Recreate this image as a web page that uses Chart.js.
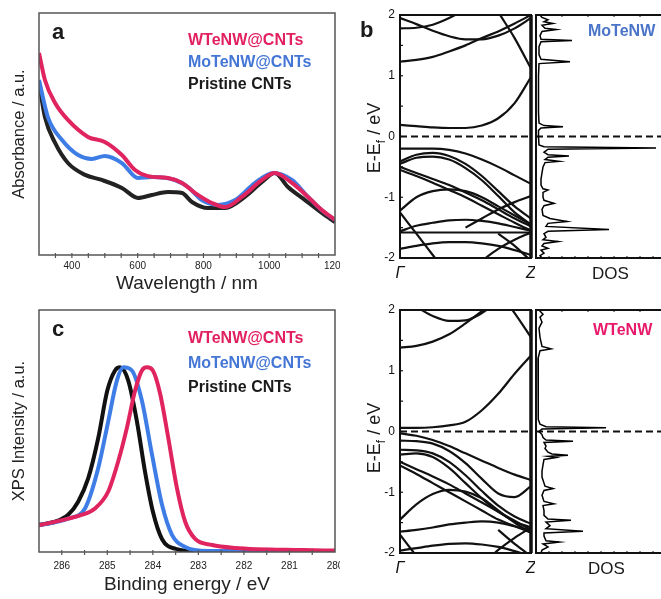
<!DOCTYPE html>
<html><head><meta charset="utf-8">
<script src="https://cdn.jsdelivr.net/npm/chart.js@4.4.1/dist/chart.umd.min.js"></script>
<style>
html,body{margin:0;padding:0;width:661px;height:599px;overflow:hidden;background:#fff;font-family:"Liberation Sans",Arial,sans-serif;}
canvas{position:absolute;display:block;}
.t{position:absolute;white-space:nowrap;line-height:1;color:#1a1a1a;}
.b{font-weight:bold;}
.rot{transform:translate(-50%,-50%) rotate(-90deg);transform-origin:center center;}
</style></head><body>
<canvas id="ca" width="340" height="300" style="left:0;top:0"></canvas>
<canvas id="cc" width="340" height="299" style="left:0;top:300px"></canvas>
<canvas id="cb1" width="195" height="300" style="left:340px;top:0"></canvas>
<canvas id="cd1" width="140" height="300" style="left:534px;top:0"></canvas>
<canvas id="cb2" width="195" height="300" style="left:340px;top:295px"></canvas>
<canvas id="cd2" width="140" height="300" style="left:534px;top:295px"></canvas>

<div class="t b" style="left:52px;top:21px;font-size:22px">a</div>
<div class="t b" style="left:188px;top:32px;font-size:16px;color:#e2205f">WTeNW@CNTs</div>
<div class="t b" style="left:188px;top:54px;font-size:16px;color:#4476d6">MoTeNW@CNTs</div>
<div class="t b" style="left:188px;top:76px;font-size:16px;color:#1a1a1a">Pristine CNTs</div>

<div class="t b" style="left:52px;top:318px;font-size:22px">c</div>
<div class="t b" style="left:188px;top:330px;font-size:16px;color:#e2205f">WTeNW@CNTs</div>
<div class="t b" style="left:188px;top:355px;font-size:16px;color:#4476d6">MoTeNW@CNTs</div>
<div class="t b" style="left:188px;top:379px;font-size:16px;color:#1a1a1a">Pristine CNTs</div>

<div class="t b" style="left:360px;top:19px;font-size:22px">b</div>
<div class="t b" style="left:588px;top:23px;font-size:16px;color:#4a74c8">MoTeNW</div>
<div class="t b" style="left:593px;top:322px;font-size:16px;color:#e8196a">WTeNW</div>
<div class="t rot" style="left:376px;top:138px;font-size:18px">E-E<sub style="font-size:12px">f</sub> / eV</div>
<div class="t rot" style="left:376px;top:438px;font-size:18px">E-E<sub style="font-size:12px">f</sub> / eV</div>
<div class="t" style="left:592px;top:265px;font-size:17px">DOS</div>
<div class="t" style="left:588px;top:560px;font-size:17px">DOS</div>

<script>
// ---------- Panel a: absorbance ----------
const absTickLabels = [400, 600, 800, 1000, 1200];
const absNmW  = [300,318,349,388,449,500,552,592,631,692,735,775,826,866,917,978,1017,1069,1118,1160,1200];
const absValW = [83.5,72.3,62.8,55.8,48.8,46.7,41.3,35.1,32.6,31.8,29.8,25.6,21.5,19.8,24.0,31.0,33.9,29.8,24.0,18.6,14.5];
const absNmMo  = [300,327,370,419,461,500,552,601,643,713,753,795,844,896,957,1012,1069,1118,1160,1200];
const absValMo = [72.3,57.0,47.5,41.3,39.7,40.9,38.0,31.8,32.2,31.0,28.1,22.7,20.7,22.7,29.8,33.9,31.0,24.0,18.5,14.5];
const absNmP  = [300,318,349,388,440,491,552,601,643,692,735,765,814,866,926,978,1017,1057,1109,1160,1200];
const absValP = [71.5,57.0,46.3,38.0,33.1,31.0,27.7,23.6,24.8,26.0,25.6,21.9,19.4,19.4,24.0,30.2,33.9,28.1,22.7,17.4,13.6];

// ---------- Panel c: XPS ----------
const xpsTickLabels = [286, 285, 284, 283, 282, 281, 280];
const xpsEvW  = [286.5,285.86,285.55,285.27,284.98,284.76,284.57,284.39,284.24,284.13,284.0,283.84,283.66,283.47,283.29,283.07,282.7,282.2,280.7,280];
const xpsValW = [11,13.8,15.4,18,25,37.5,51.3,66.7,75,76.3,75,65.4,47,26.3,12.5,5.4,2.9,1.7,0.8,0.6];
const xpsEvMo  = [286.5,285.86,285.49,285.2,284.98,284.79,284.65,284.46,284.24,284.02,283.8,283.58,283.29,282.79,281,280];
const xpsValMo = [11,13.8,18,34.6,54,70.8,76.3,75,62.5,40.4,19.6,7.1,2.1,0.4,0.3,0.3];
const xpsEvP  = [286.5,286.15,285.86,285.64,285.42,285.2,285.0,284.83,284.72,284.54,284.35,284.17,284.0,283.8,283.5,283.07,282,280];
const xpsValP = [11.3,12.5,15.4,20.8,30.4,47,66.7,75,76.3,70.8,54,33,16.7,5.4,1.3,0.4,0.3,0.3];

// ---------- Panel b: band structures (k from Γ=0 to Z=1) ----------
const kPath = [0, 0.125, 0.25, 0.375, 0.5, 0.625, 0.75, 0.875, 1];
const kLabels = ['Γ', 'Z'];
const energyTicks = [-2, -1, 0, 1, 2];
const bandsMoTe = [
  [0.19,0.17,0.15,0.14,0.14,0.18,0.3,0.55,0.98],
  [1.23,1.26,1.31,1.4,1.5,1.62,1.73,1.86,2.0],
  [null,null,null,null,null,2.5,2.05,1.62,1.12],
  [1.95,1.85,1.74,1.65,1.6,1.6,1.66,1.78,1.95],
  [1.78,1.79,1.84,1.95,2.1,2.3,null,null,null],
  [-0.2,-0.2,-0.2,-0.22,-0.28,-0.38,-0.5,-0.64,-0.78],
  [-0.41,-0.3,-0.27,-0.32,-0.45,-0.65,-0.9,-1.15,-1.35],
  [-0.45,-0.35,-0.33,-0.38,-0.52,-0.72,-0.98,-1.25,-1.45],
  [-0.5,-0.6,-0.7,-0.8,-0.92,-1.05,-1.2,-1.35,-1.48],
  [-0.55,-0.65,-0.76,-0.88,-1.0,-1.14,-1.28,-1.42,-1.55],
  [-1.22,-1.0,-0.9,-0.87,-0.9,-1.0,-1.15,-1.3,-1.45],
  [null,null,null,null,-1.5,-1.35,-1.2,-1.08,-0.98],
  [-1.56,-1.47,-1.42,-1.38,-1.37,-1.39,-1.43,-1.49,-1.55],
  [-1.58,-1.58,-1.58,-1.58,-1.58,-1.58,-1.58,-1.58,-1.58],
  [-1.85,-1.8,-1.76,-1.74,-1.74,-1.76,-1.8,-1.87,-1.95],
  [-1.25,-1.6,-1.95,-2.3,null,null,null,null,null],
  [null,null,null,null,-2.3,-2.05,-1.85,-1.7,-1.58],
  [null,null,null,null,null,null,-1.6,-1.8,-2.05]
];
const bandsWTe = [
  [0.06,0.06,0.07,0.1,0.16,0.35,0.62,0.95,1.25],
  [1.38,1.41,1.48,1.6,1.78,1.98,2.2,null,null],
  [null,2.05,1.9,1.82,1.83,1.95,2.15,null,null],
  [null,null,null,null,null,null,2.3,1.95,1.55],
  [-0.03,-0.07,-0.14,-0.24,-0.36,-0.48,-0.6,-0.71,-0.8],
  [-0.15,-0.16,-0.2,-0.32,-0.52,-0.78,-1.02,-1.08,-0.9],
  [-0.3,-0.31,-0.36,-0.5,-0.72,-0.98,-1.22,-1.4,-1.52],
  [-0.38,-0.36,-0.42,-0.6,-0.85,-1.1,-1.32,-1.48,-1.58],
  [-0.5,-0.62,-0.74,-0.87,-1.02,-1.17,-1.32,-1.47,-1.62],
  [-0.56,-0.7,-0.85,-1.0,-1.15,-1.3,-1.45,-1.56,-1.66],
  [-1.45,-1.2,-1.03,-0.96,-0.99,-1.1,-1.3,-1.5,-1.67],
  [-1.65,-1.62,-1.58,-1.53,-1.5,-1.48,-1.5,-1.56,-1.63],
  [-1.96,-1.92,-1.88,-1.85,-1.84,-1.86,-1.9,-1.97,-2.05],
  [-1.7,-2.05,null,null,null,null,null,null,null],
  [null,null,null,null,null,-2.2,-1.95,-1.75,-1.58],
  [null,null,null,null,null,null,-1.62,-1.85,-2.05]
];

// ---------- Panel b: density of states ----------
const dosMoE = [2.0,1.96,1.92,1.89,1.86,1.83,1.78,1.76,1.73,1.66,1.6,1.58,1.56,1.48,1.35,1.27,1.23,1.2,1.0,0.4,0.22,0.18,0.16,0.14,0.1,0.0,-0.14,-0.17,-0.19,-0.21,-0.26,-0.3,-0.32,-0.34,-0.38,-0.41,-0.43,-0.5,-0.6,-0.7,-0.8,-0.86,-0.88,-0.92,-1.0,-1.05,-1.1,-1.14,-1.2,-1.3,-1.35,-1.4,-1.43,-1.48,-1.53,-1.56,-1.6,-1.66,-1.7,-1.73,-1.76,-1.8,-1.84,-1.87,-1.92,-1.96,-2.0];
const dosMoV = [4,6,12,8,17,6,9,20,6,4,5,36,5,3,3,5,34,3,2.5,2.5,3,8,27,5,2.5,2.5,3,8,120,12,8,12,33,12,9,23,9,7,6,5,5,7,12,7,7,8,18,8,6,7,14,31,12,10,73,12,8,10,7,22,8,6,12,5,8,4,6];
const dosWE = [2.0,1.93,1.88,1.8,1.7,1.55,1.4,1.36,1.33,1.2,0.6,0.2,0.12,0.08,0.06,0.04,0.0,-0.05,-0.1,-0.14,-0.16,-0.18,-0.24,-0.28,-0.34,-0.37,-0.39,-0.41,-0.43,-0.46,-0.55,-0.65,-0.75,-0.85,-0.9,-0.94,-0.97,-1.05,-1.15,-1.19,-1.22,-1.3,-1.38,-1.44,-1.46,-1.49,-1.55,-1.6,-1.64,-1.67,-1.72,-1.8,-1.82,-1.85,-1.9,-1.95,-2.0];
const dosWV = [3,7,4,6,3,4,6,15,4,2,2,2.5,4,10,70,6,3,6,7,10,37,8,10,9,12,16,32,12,20,8,7,6,6,8,9,17,8,6,8,18,7,8,8,12,35,10,14,10,47,8,8,10,23,7,12,6,5];

// ---------- helpers ----------
const FONT = '"Liberation Sans", Arial, sans-serif';
Chart.defaults.font.family = FONT;
Chart.defaults.color = '#1a1a1a';
Chart.defaults.animation = false;

function steps(a, b, s) { const r = []; for (let v = a; v <= b + 1e-9; v += s) r.push(+v.toFixed(4)); return r; }

const framePlugin = {
  id: 'frame',
  afterDatasetsDraw(chart, args, o) {
    const { ctx, chartArea: a } = chart;
    ctx.save();
    (o.ticks || []).forEach(t => {
      const s = chart.scales[t.axis];
      ctx.strokeStyle = o.color; ctx.lineWidth = t.width || 1;
      const out = t.out || 0;
      t.values.forEach(v => {
        const p = s.getPixelForValue(v);
        ctx.beginPath();
        if (t.side === 'bottom') { ctx.moveTo(p, a.bottom + out); ctx.lineTo(p, a.bottom - t.len); }
        else if (t.side === 'top') { ctx.moveTo(p, a.top); ctx.lineTo(p, a.top + t.len); }
        else { ctx.moveTo(a.left, p); ctx.lineTo(a.left + t.len, p); }
        ctx.stroke();
      });
    });
    ctx.strokeStyle = o.color; ctx.lineWidth = o.width;
    ctx.strokeRect(a.left, a.top, a.right - a.left, a.bottom - a.top);
    if (o.rightWidth) {
      ctx.lineWidth = o.rightWidth;
      ctx.beginPath(); ctx.moveTo(a.right, a.top); ctx.lineTo(a.right, a.bottom); ctx.stroke();
    }
    ctx.restore();
  }
};

function series(xs, ys, color, w) {
  return { data: xs.map((x, i) => ({ x, y: ys[i] })), borderColor: color, borderWidth: w,
    pointRadius: 0, showLine: true, cubicInterpolationMode: 'monotone', fill: false };
}
const RED = '#e0245f', BLUE = '#3f7de6', BLACK = '#222';

const noPlug = { legend: { display: false }, tooltip: { enabled: false } };

function spectrumChart(id, datasets, xopt, yTitle, xTitle, h, padTop, xTitlePad, tickPad, minorTicks) {
  return new Chart(document.getElementById(id), {
    type: 'scatter',
    data: { datasets },
    options: {
      responsive: false, animation: false,
      layout: { padding: { top: padTop, right: 5, left: 0, bottom: 0 } },
      plugins: Object.assign({}, noPlug, { frame: { color: '#555', width: 1.5,
        ticks: [{ axis: 'x', side: 'bottom', len: 2, out: 3, width: 1.2, values: minorTicks }] } }),
      scales: {
        x: Object.assign({
          type: 'linear',
          afterBuildTicks: s => { s.ticks = xopt.labels.map(v => ({ value: v })); },
          afterFit: s => { s.height = h; s.paddingLeft = 0; s.paddingRight = 0; },
          grid: { display: false, drawTicks: false }, border: { display: false },
          ticks: { font: { size: 10 }, color: '#222', padding: tickPad, maxRotation: 0, autoSkip: false,
            callback: v => String(v) },
          title: { display: true, text: xTitle, font: { size: 19 }, color: '#222', padding: { top: 0, bottom: xTitlePad } }
        }, xopt.range),
        y: {
          min: 0, max: 100,
          afterFit: s => { s.width = 39; },
          grid: { display: false, drawTicks: false }, border: { display: false },
          ticks: { display: false },
          title: { display: true, text: yTitle, font: { size: 16.5 }, color: '#222', padding: { top: 10, bottom: 0 } }
        }
      }
    },
    plugins: [framePlugin]
  });
}

spectrumChart('ca', [
  series(absNmW, absValW, RED, 4),
  series(absNmMo, absValMo, BLUE, 4),
  series(absNmP, absValP, BLACK, 4)
], { labels: absTickLabels, range: { min: 300, max: 1200 } },
  'Absorbance / a.u.', 'Wavelength / nm', 45, 13, 4.5, 5, steps(350, 1150, 50));

spectrumChart('cc', [
  series(xpsEvW, xpsValW, RED, 4),
  series(xpsEvMo, xpsValMo, BLUE, 4),
  series(xpsEvP, xpsValP, '#111', 4)
], { labels: xpsTickLabels, range: { min: 280, max: 286.5, reverse: true } },
  'XPS Intensity / a.u.', 'Binding energy / eV', 47, 10, 2.6, 8, steps(280.5, 286, 0.5));

function bandChart(id, bands) {
  const ds = bands.map(b => ({
    data: kPath.map((k, i) => ({ x: k, y: b[i] })).filter(p => p.y !== null),
    borderColor: '#111', borderWidth: 2.2, pointRadius: 0, showLine: true,
    cubicInterpolationMode: 'monotone', clip: 0
  }));
  ds.push({ data: [{ x: 0, y: 0 }, { x: 1, y: 0 }], borderColor: '#111', borderWidth: 2,
    borderDash: [7, 4], pointRadius: 0, showLine: true });
  return new Chart(document.getElementById(id), {
    type: 'scatter',
    data: { datasets: ds },
    options: {
      responsive: false, animation: false,
      layout: { padding: { top: 15, right: 4, left: 0, bottom: 0 } },
      plugins: Object.assign({}, noPlug, { frame: { color: '#111', width: 2, rightWidth: 3.5,
        ticks: [{ axis: 'y', side: 'left', len: 3, width: 1.2, values: steps(-1.5, 1.5, 0.5) }] } }),
      scales: {
        x: {
          type: 'linear', min: 0, max: 1,
          afterBuildTicks: s => { s.ticks = [{ value: 0 }, { value: 1 }]; },
          afterFit: s => { s.height = 42; s.paddingLeft = 0; s.paddingRight = 0; },
          grid: { display: false, drawTicks: false }, border: { display: false },
          ticks: { font: { size: 16, style: 'italic' }, color: '#111', padding: 6, maxRotation: 0, autoSkip: false,
            callback: (v) => kLabels[v === 0 ? 0 : 1] }
        },
        y: {
          min: -2, max: 2,
          afterBuildTicks: s => { s.ticks = energyTicks.map(v => ({ value: v })); },
          afterFit: s => { s.width = 60; s.paddingTop = 0; s.paddingBottom = 0; },
          grid: { display: false, drawTicks: false }, border: { display: false },
          ticks: { font: { size: 12 }, color: '#111', padding: 5, autoSkip: false }
        }
      }
    },
    plugins: [framePlugin]
  });
}

function dosChart(id, es, vs) {
  return new Chart(document.getElementById(id), {
    type: 'scatter',
    data: { datasets: [
      { data: es.map((e, i) => ({ x: vs[i], y: e })), borderColor: '#000', borderWidth: 1.5,
        pointRadius: 0, showLine: true, tension: 0, clip: 0 },
      { data: [{ x: 0, y: 0 }, { x: 140, y: 0 }], borderColor: '#111', borderWidth: 2,
        borderDash: [7, 4], pointRadius: 0, showLine: true }
    ] },
    options: {
      responsive: false, animation: false,
      layout: { padding: { top: 15, right: 0, left: 2, bottom: 42 } },
      plugins: Object.assign({}, noPlug, { frame: { color: '#111', width: 2,
        ticks: [{ axis: 'x', side: 'top', len: 2, width: 1, values: steps(26, 130, 26) },
                { axis: 'x', side: 'bottom', len: 2, width: 1, values: steps(13, 130, 13) }] } }),
      scales: {
        x: { display: false, min: 0, max: 138 },
        y: { display: false, min: -2, max: 2 }
      }
    },
    plugins: [framePlugin]
  });
}

bandChart('cb1', bandsMoTe);
dosChart('cd1', dosMoE, dosMoV);
bandChart('cb2', bandsWTe);
dosChart('cd2', dosWE, dosWV);
</script>
</body></html>
